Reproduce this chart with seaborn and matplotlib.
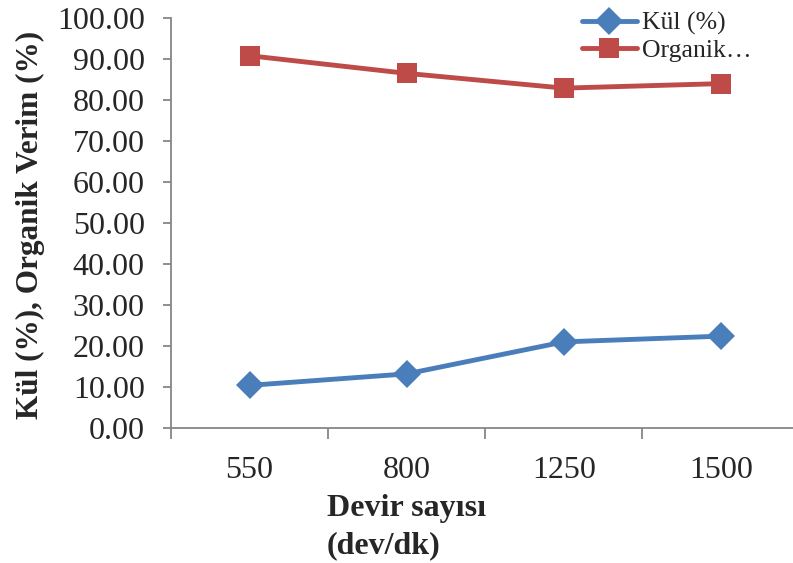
import matplotlib
matplotlib.use("Agg")
import matplotlib.pyplot as plt
import seaborn as sns
import pandas as pd
import numpy as np

# Rotational speed categories and measured values
devir = ["550", "800", "1250", "1500"]
kul = [10.4, 13.2, 21.0, 22.4]
organik = [90.8, 86.5, 82.9, 84.0]
series_names = ["Kül (%)", "Organik…"]
y_ticks = [0, 10, 20, 30, 40, 50, 60, 70, 80, 90, 100]

sns.set_theme(style="white")
plt.rcParams["font.family"] = ["Liberation Serif", "DejaVu Serif"]

df = pd.DataFrame({
    "pos": list(range(len(devir))) * 2,
    "value": kul + organik,
    "series": [series_names[0]] * len(devir) + [series_names[1]] * len(devir),
})

blue = "#4A7EBB"
red = "#BE4B48"
axis_gray = "#868686"
tick_fs = 23

fig = plt.figure(figsize=(7.93, 5.63), dpi=100)
ax = fig.add_axes([0.2157, 0.2398, 0.7925, 0.7282])

sns.lineplot(data=df, x="pos", y="value", hue="series", style="series",
             palette={series_names[0]: blue, series_names[1]: red},
             markers={series_names[0]: "D", series_names[1]: "s"},
             dashes=False, sort=False, linewidth=3.5, markersize=14,
             markeredgewidth=0, ax=ax, legend=False)

ax.set_xlim(-0.5, len(devir) - 0.5)
ax.set_ylim(0, 100)
ax.set_yticks(y_ticks)
ax.set_yticklabels([f"{v:.2f}" for v in y_ticks], fontsize=tick_fs)

# Category labels centred, tick marks between categories
ax.set_xticks(np.arange(len(devir) + 1) - 0.5)
ax.set_xticklabels([])
ax.set_xticks(np.arange(len(devir)), minor=True)
ax.set_xticklabels(devir, minor=True, fontsize=tick_fs)
ax.tick_params(axis="x", which="major", direction="out", length=8, width=1.3,
               color=axis_gray, bottom=True)
ax.tick_params(axis="x", which="minor", length=0, pad=20)
ax.tick_params(axis="y", direction="out", length=6, width=1.3, color=axis_gray,
               left=True, pad=13)

for s in ["top", "right"]:
    ax.spines[s].set_visible(False)
for s in ["left", "bottom"]:
    ax.spines[s].set_color(axis_gray)
    ax.spines[s].set_linewidth(1.3)

ax.set_xlabel("")
ax.set_ylabel("Kül (%), Organik Verim (%)", fontsize=22.5, fontweight="bold")
ax.yaxis.set_label_coords(-0.2, 0.495)
fig.text(327 / 793, 1 - 494 / 563, "Devir sayısı\n(dev/dk)", fontsize=tick_fs,
         fontweight="bold", ha="left", va="top", linespacing=1.37)

handles = [
    plt.Line2D([], [], color=blue, marker="D", markersize=14, linewidth=3.5,
               markeredgewidth=0),
    plt.Line2D([], [], color=red, marker="s", markersize=14, linewidth=3.5,
               markeredgewidth=0),
]
ax.legend(handles, series_names, loc="upper left",
          bbox_to_anchor=(582 / 793, 1 - 12 / 563),
          bbox_transform=fig.transFigure, frameon=False, fontsize=18.5,
          handlelength=2.14, handletextpad=0.2, labelspacing=0.15,
          borderaxespad=0, borderpad=0)

fig.savefig("out.png", dpi=100)
